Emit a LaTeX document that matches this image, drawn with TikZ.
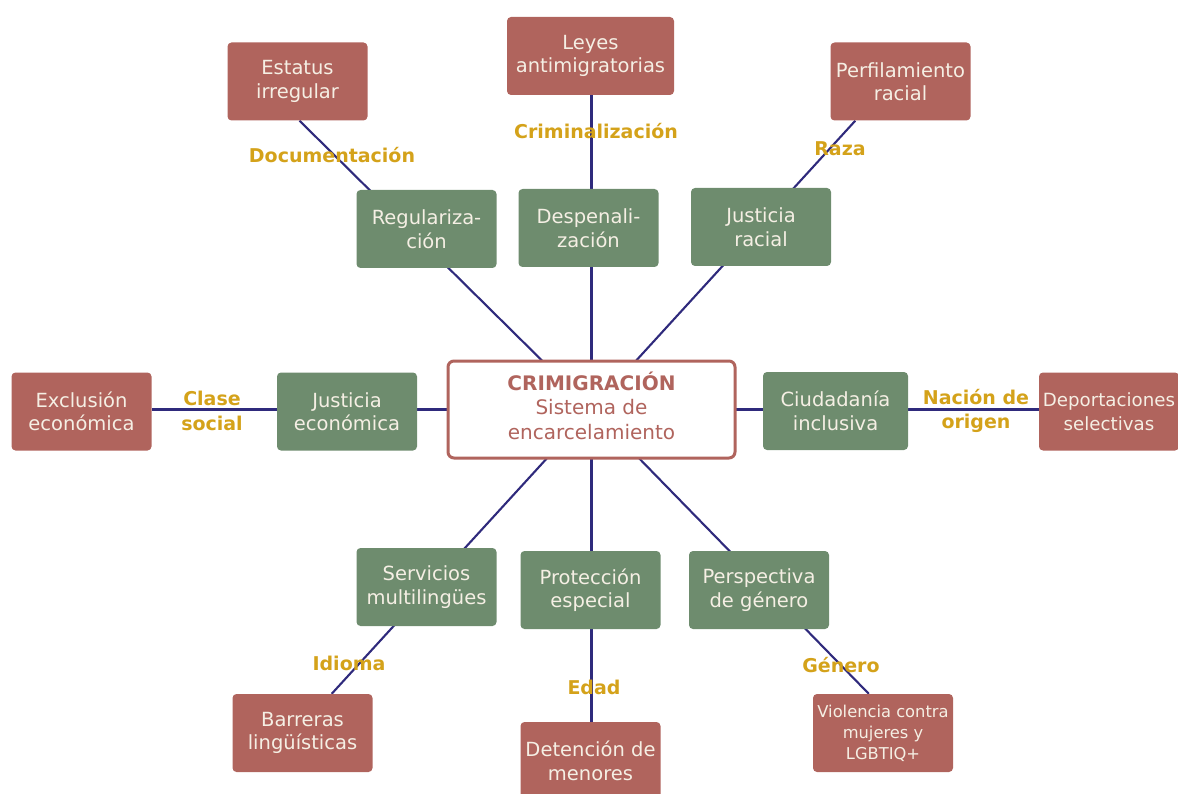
\documentclass[tikz,border=0pt]{standalone}
\usepackage{fontspec}
\setmainfont{DejaVu Sans}
\usetikzlibrary{backgrounds}

\definecolor{rojo}{HTML}{B0645D}
\definecolor{verde}{HTML}{6E8C6E}
\definecolor{oro}{HTML}{D4A21A}
\definecolor{linea}{HTML}{2F2A7C}
\definecolor{crema}{HTML}{F5EFE4}

\tikzset{
  basebox/.style={rectangle, rounded corners=4pt, text=crema, align=center,
    minimum width=140pt, minimum height=78pt, inner sep=0pt,
    font=\fontsize{19.5}{23.5}\selectfont},
  greenbox/.style={basebox, fill=verde},
  redbox/.style={basebox, fill=rojo},
  link/.style={draw=linea, line width=2.1pt},
  tag/.style={text=oro, align=center, font=\bfseries\fontsize{19}{24.5}\selectfont}
}

\begin{document}
\begin{tikzpicture}[x=1pt, y=-1pt]

% Fix the page size
\useasboundingbox (0,0) rectangle (1178,794);

% Central node
\node[draw=rojo, line width=3pt, fill=white, rounded corners=6pt,
      minimum width=287pt, minimum height=97pt, text=rojo, align=center,
      font=\fontsize{20}{24.5}\selectfont] (ctr) at (591.5,409.5)
  {{\bfseries CRIMIGRACIÓN}\\Sistema de\\encarcelamiento\\[-16pt]\mbox{}};

% Green nodes (responses)
\node[greenbox] (regul) at (426.5,229) {Regulariza-\\ción};
\node[greenbox] (despen) at (588.5,228) {Despenali-\\zación};
\node[greenbox] (jracial) at (761,227) {Justicia\\racial};
\node[greenbox] (jecon) at (347,411.5) {Justicia\\económica};
\node[greenbox, minimum width=145pt] (ciudad) at (835.5,411) {Ciudadanía\\inclusiva};
\node[greenbox] (servic) at (426.5,587) {Servicios\\multilingües};
\node[greenbox] (protec) at (590.5,590) {Protección\\especial};
\node[greenbox] (perspec) at (759,590) {Perspectiva\\de género};

% Red nodes (problems)
\node[redbox] (estatus) at (297.5,81.5) {Estatus\\irregular};
\node[redbox, minimum width=167pt] (leyes) at (590.5,56) {Leyes\\antimigratorias};
\node[redbox] (perfil) at (900.5,81.5) {Perfilamiento\\racial};
\node[redbox] (exclu) at (81.5,411.5) {Exclusión\\económica};
\node[redbox, font=\fontsize{18.2}{23.5}\selectfont] (deport) at (1109,411.5)
  {Deportaciones\\selectivas};
\node[redbox] (barrera) at (302.5,733) {Barreras\\lingüísticas};
\node[redbox] (deten) at (590.5,761) {Detención de\\menores};
\node[redbox, font=\fontsize{16.3}{21}\selectfont] (violen) at (883,733)
  {Violencia contra\\mujeres y\\LGBTIQ+};

% Connectors, drawn under the boxes
\begin{scope}[on background layer]
\draw[link] (ctr.center) -- ([xshift=2pt]estatus.south);
\draw[link] (ctr.center) -- (ctr.center |- leyes.south);
\draw[link] (ctr.center) -- ([xshift=25pt]perfil.south west);
\draw[link] (ctr.center) -- (ctr.center -| exclu.east);
\draw[link] (ctr.center) -- (ctr.center -| deport.west);
\draw[link] (ctr.center) -- ([xshift=-41pt]barrera.north east);
\draw[link] (ctr.center) -- (ctr.center |- deten.north);
\draw[link] (ctr.center) -- ([xshift=56pt]violen.north west);
\end{scope}

% Edge labels
\node[tag] (tdoc) at (332,155) {Documentación};
\node[tag] (tcrim) at (596,131) {Criminalización};
\node[tag] (traza) at (840,149) {Raza};
\node[tag] (tclase) at (212,411) {Clase\\social};
\node[tag] (tnacion) at (976,411) {Nación de\\origen};
\node[tag] (tidioma) at (349,663) {Idioma};
\node[tag] (tedad) at (594,687) {Edad};
\node[tag] (tgenero) at (841,665) {Género};

\end{tikzpicture}
\end{document}
